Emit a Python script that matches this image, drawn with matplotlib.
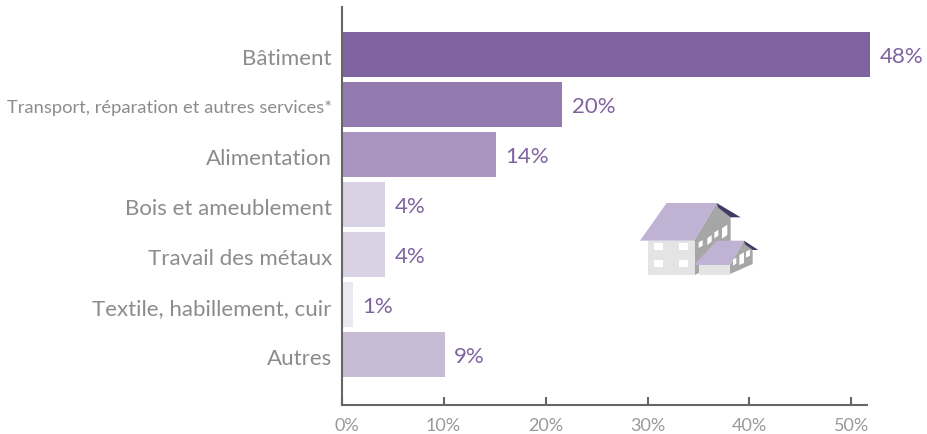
import matplotlib
matplotlib.use("Agg")
import matplotlib.pyplot as plt
from matplotlib.patches import Polygon
from matplotlib.transforms import ScaledTranslation

plt.rcParams["font.family"] = ["Lato", "DejaVu Sans"]

categories = ["Bâtiment", "Transport, réparation et autres services*", "Alimentation",
              "Bois et ameublement", "Travail des métaux", "Textile, habillement, cuir", "Autres"]
bar_values = [51.8, 21.6, 15.1, 4.3, 4.3, 1.1, 10.1]
bar_labels = ["48%", "20%", "14%", "4%", "4%", "1%", "9%"]
bar_colors = ["#7f63a0", "#937bb0", "#a994bf", "#d9d1e4", "#d9d1e4", "#ece8f2", "#c8bbd6"]
x_ticks = [0, 10, 20, 30, 40, 50]
x_labels = ["0%", "10%", "20%", "30%", "40%", "50%"]

W, H = 928, 435
fig = plt.figure(figsize=(W / 100, H / 100), dpi=100)
x0, x1, y_top, y_bot = 341.5, 900, 8, 405.5
ax = fig.add_axes([x0 / W, 1 - y_bot / H, (x1 - x0) / W, (y_bot - y_top) / H])

ypos = range(len(categories))
ax.barh(ypos, bar_values, height=0.895, color=bar_colors, linewidth=0)
ax.set_xlim(0, (x1 - x0) / 10.2)
ax.set_ylim(6.99, -0.94)

ax.spines["top"].set_visible(False)
ax.spines["right"].set_visible(False)
for s in ["left", "bottom"]:
    ax.spines[s].set_color("#666666")
    ax.spines[s].set_linewidth(1.5)
ax.spines["bottom"].set_bounds(0, 51.5)

ax.set_xticks(x_ticks)
ax.set_xticklabels(x_labels, fontsize=13, color="#999999")
ax.tick_params(axis="x", direction="in", length=6, width=1.5, color="#666666", pad=9)
ax.set_yticks(list(ypos))
ax.set_yticklabels(categories, fontsize=16, color="#8c8c8c")
ax.tick_params(axis="y", length=0, pad=7)
ax.get_yticklabels()[1].set_fontsize(13.2)

# small nudges of the tick labels, in points
down = ScaledTranslation(0, -1 / 72, fig.dpi_scale_trans)
for t in ax.get_yticklabels():
    t.set_transform(t.get_transform() + down)
zero = ax.get_xticklabels()[0]
zero.set_transform(zero.get_transform() + ScaledTranslation(3.6 / 72, 0, fig.dpi_scale_trans))

for i, (v, lab) in enumerate(zip(bar_values, bar_labels)):
    ax.annotate(lab, (v, i), xytext=(7, -1), textcoords="offset points", va="center",
                fontsize=16, color="#7f63a0")

# house icon, drawn in pixel coordinates on an overlay
ov = fig.add_axes([0, 0, 1, 1], facecolor="none")
ov.set_xlim(0, W)
ov.set_ylim(H, 0)
ov.axis("off")

LILAC, GREY, WALL, DARK = "#bfb2d2", "#a6a6a6", "#e4e4e4", "#3f3a66"

def poly(points, color):
    # points given in the 3x zoom frame of the icon
    ov.add_patch(Polygon([(620 + px / 3, 190 + py / 3) for px, py in points], closed=True, fc=color, ec="none"))

poly([(222, 155), (290, 42), (332, 85), (332, 155), (240, 250), (225, 258)], GREY)
poly([(85, 155), (225, 155), (225, 258), (85, 258)], WALL)
for xa, ya, xb, yb in [(101, 162, 130, 183), (177, 162, 205, 183), (101, 212, 130, 234), (177, 212, 205, 234)]:
    poly([(xa, ya), (xb, ya), (xb, yb), (xa, yb)], "white")
for pts in [[(236, 160), (248, 153), (248, 170), (236, 177)],
            [(262, 148), (275, 138), (275, 158), (262, 168)],
            [(283, 130), (295, 123), (295, 140), (283, 148)],
            [(306, 118), (322, 107), (322, 138), (306, 149)]]:
    poly(pts, "white")
poly([(60, 155), (140, 42), (290, 42), (222, 155)], LILAC)
poly([(290, 42), (362, 85), (332, 85), (295, 56)], DARK)
poly([(330, 228), (372, 155), (398, 185), (398, 225), (330, 255)], GREY)
poly([(238, 228), (330, 228), (330, 258), (238, 258)], WALL)
for pts in [[(339, 212), (349, 206), (349, 224), (339, 230)],
            [(358, 198), (372, 190), (372, 222), (358, 228)],
            [(378, 188), (390, 182), (390, 200), (378, 206)]]:
    poly(pts, "white")
poly([(222, 228), (290, 155), (372, 155), (330, 228)], LILAC)
poly([(372, 155), (415, 183), (398, 183), (375, 166)], DARK)

fig.savefig("out.png", dpi=100)
